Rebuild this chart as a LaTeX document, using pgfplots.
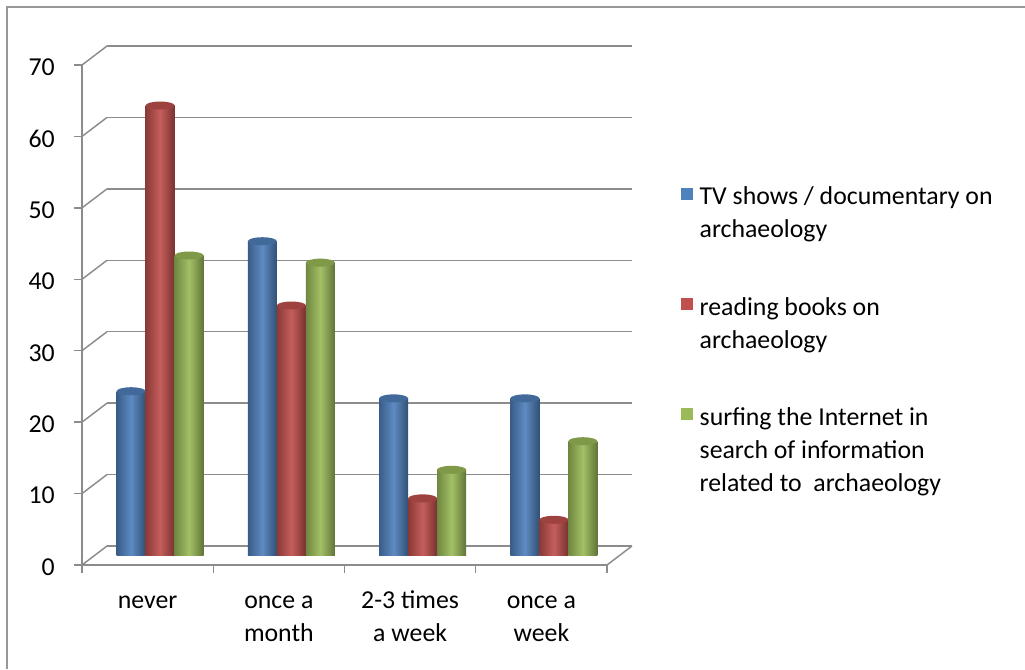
\documentclass[border=0pt]{standalone}
\usepackage{pgfplots}
\pgfplotsset{compat=1.18}
\usepackage{pgfplotstable}
\usepackage{fontspec}
\setmainfont{Carlito}
\definecolor{tvblue}{HTML}{4F81BD}
\definecolor{bkred}{HTML}{C0504D}
\definecolor{inetgreen}{HTML}{9BBB59}
\definecolor{gridcol}{HTML}{8C8C8C}
\newcommand\chfont{\fontsize{19.35pt}{24.75pt}\selectfont}
\pgfdeclareplotmark{cyltop}{\pgfpathellipse{\pgfpointorigin}{\pgfqpoint{\pgfplotmarksize}{0pt}}{\pgfqpoint{0pt}{3pt}}\pgfusepathqfill}

\pgfplotstableread{
cat tv books web
0.5 23 63 42
1.5 44 35 41
2.5 22 8 12
3.5 22 5 16
}\datatable

% one shaded cylinder-like bar per category
\newcommand\cyl[3]{%
  \pgfplotsinvokeforeach{0,1,2,3}{%
    \addplot[forget plot, bar shift=0pt, xshift=#3, draw=none,
      left color=#2!72!black, right color=#2!62!black, middle color=#2!92!white,
      mark=cyltop, mark size=10.875pt, mark options={fill=#2!82!black, draw=none},
      restrict x to domain=##1:##1.99]
      table[x=cat, y=#1]{\datatable};
  }%
}

\begin{document}
\begin{tikzpicture}
\path[use as bounding box] (0,0) rectangle (768.75pt,501.75pt);
\draw[gridcol!90, line width=1.1pt] (5.25pt,0) -- (5.25pt,496.5pt) -- (768.75pt,496.5pt);

% back wall with gridlines
\begin{axis}[at={(80.25pt,92.25pt)}, anchor=south west, scale only axis,
  width=393.75pt, height=375pt, xmin=0, xmax=4, ymin=0, ymax=70,
  axis line style={draw=none}, xtick=\empty, ytick={0,10,...,70}, yticklabels={},
  major tick length=0pt, ymajorgrids, grid style={gridcol, line width=1.1pt}, clip=false]
\pgfplotsinvokeforeach{0,10,...,70}{\draw[gridcol, line width=1.1pt] (axis cs:0,#1) -- ++(-18.75pt,-14.25pt);}
\draw[gridcol, line width=1.1pt] (axis cs:4,0) -- ++(-18.75pt,-14.25pt);
\end{axis}

% bars (mid depth)
\begin{axis}[at={(70.875pt,85.125pt)}, anchor=south west, scale only axis,
  width=393.75pt, height=375pt, xmin=0, xmax=4, ymin=0, ymax=70,
  hide axis, clip=false, ybar=0pt, bar width=21.75pt,
  legend cell align=left,
  legend style={at={(1.117,0.7526)}, anchor=north west, draw=none, fill=none,
    inner sep=0pt, outer sep=0pt, row sep=35pt, column sep=3.4pt,
    cells={inner sep=0pt, font=\chfont}, nodes={align=left}}]
\cyl{tv}{tvblue}{-21.75pt}
\cyl{books}{bkred}{0pt}
\cyl{web}{inetgreen}{21.75pt}
\addlegendimage{legend image code/.code={\fill[tvblue] (0pt,8.8pt) rectangle (8.25pt,17.05pt);}}
\addlegendentry{\strut TV shows / documentary on\\\strut archaeology}
\addlegendimage{legend image code/.code={\fill[bkred] (0pt,8.8pt) rectangle (8.25pt,17.05pt);}}
\addlegendentry{\strut reading books on\\\strut archaeology}
\addlegendimage{legend image code/.code={\fill[inetgreen] (0pt,21.2pt) rectangle (8.25pt,29.45pt);}}
\addlegendentry{\strut surfing the Internet in\\\strut search of information\\\strut related to\ \ archaeology}
\end{axis}

% front axis
\begin{axis}[at={(61.5pt,78pt)}, anchor=south west, scale only axis,
  width=393.75pt, height=375pt, xmin=0, xmax=4, ymin=0, ymax=70,
  axis x line*=bottom, axis y line*=left,
  axis line style={gridcol, line width=1.1pt},
  tick style={gridcol, line width=1.1pt}, tick align=outside, major tick length=6pt,
  ytick={0,10,...,70}, xtick={0,1,2,3,4}, xticklabels={},
  extra x ticks={0.5,1.5,2.5,3.5},
  extra x tick labels={{\strut never},{\strut once a\\\strut month},{\strut 2-3 times\\\strut a week},{\strut once a\\\strut week}},
  extra x tick style={major tick length=0pt, grid=none},
  /pgf/number format/assume math mode=true,
  tick label style={font=\chfont, inner sep=0pt, text=black},
  xticklabel style={align=center, yshift=-15pt},
  yticklabel style={xshift=-14.25pt, yshift=-1.5pt},
  clip=false]
\end{axis}
\end{tikzpicture}
\end{document}
